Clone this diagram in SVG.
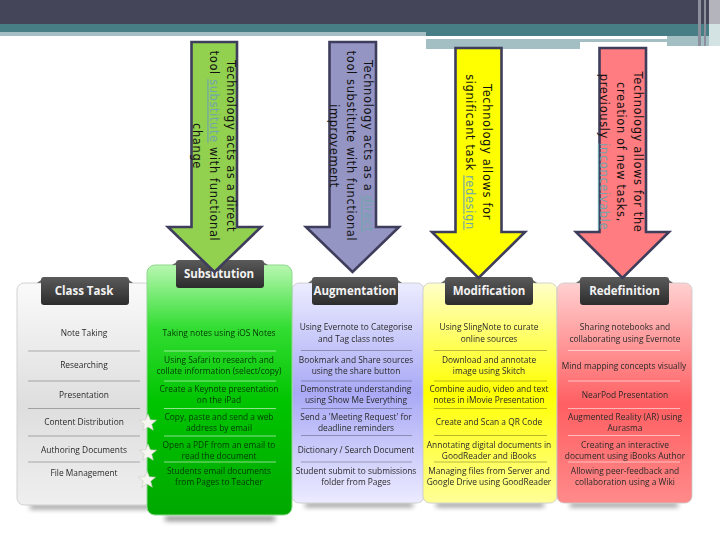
<svg xmlns="http://www.w3.org/2000/svg" width="720" height="540" viewBox="0 0 720 540">
<style>
.hd{font:700 11.5px "Open Sans","Liberation Sans",sans-serif;fill:#f2f2f2;text-anchor:middle}
.t{font:8.4px "Open Sans","Liberation Sans",sans-serif;fill:#2a2a2a;text-anchor:middle;filter:url(#soft)}
.g{fill:#063806}
.div{stroke:#000;stroke-opacity:.28;stroke-width:1;fill:none}
.lt{stroke:#fff;stroke-opacity:.55}
.card{stroke:#c8c8c8;stroke-width:.8}
.bar{fill:url(#hdr)}
.tab{fill:#6a6a6a}
.arrow{stroke:#3f3d5c;stroke-width:2.600;stroke-linejoin:miter}
.at{font:11.500px "DejaVu Sans","Liberation Sans",sans-serif;letter-spacing:.6px;fill:#111;text-anchor:middle}
.lk{fill:#6fa5ac;text-decoration:underline}
.star{fill:#f6f6f0;stroke:#c8c8c0;stroke-width:.6}
</style>
<defs>
<filter id="soft" x="-5%" y="-30%" width="110%" height="160%"><feGaussianBlur stdDeviation=".35"/></filter>
<filter id="sh" x="-20%" y="-200%" width="140%" height="500%"><feGaussianBlur stdDeviation="2.5"/></filter>
<linearGradient id="hdr" x1="0" y1="0" x2="0" y2="1"><stop offset="0" stop-color="#5a5a5a"/><stop offset="1" stop-color="#2c2c2c"/></linearGradient>
<linearGradient id="cw" x1="0" y1="0" x2="0" y2="1"><stop offset="0" stop-color="#fafafa"/><stop offset=".55" stop-color="#dedede"/><stop offset="1" stop-color="#efefef"/></linearGradient>
<linearGradient id="cg" x1="0" y1="0" x2="0" y2="1"><stop offset="0" stop-color="#b8f7b0"/><stop offset=".25" stop-color="#33dd33"/><stop offset=".55" stop-color="#00c400"/><stop offset="1" stop-color="#00a800"/></linearGradient>
<linearGradient id="cb" x1="0" y1="0" x2="0" y2="1"><stop offset="0" stop-color="#ececff"/><stop offset=".5" stop-color="#a9a9f6"/><stop offset="1" stop-color="#ecebff"/></linearGradient>
<linearGradient id="cy" x1="0" y1="0" x2="0" y2="1"><stop offset="0" stop-color="#ffffc8"/><stop offset=".5" stop-color="#ffff00"/><stop offset="1" stop-color="#ffff99"/></linearGradient>
<linearGradient id="cr" x1="0" y1="0" x2="0" y2="1"><stop offset="0" stop-color="#ffd0d0"/><stop offset=".55" stop-color="#ff5f62"/><stop offset="1" stop-color="#ff8a8a"/></linearGradient>
</defs>

<rect width="720" height="540" fill="#fff"/>
<g id="banner">
<rect width="720" height="24" fill="#444559"/>
<rect y="24" width="720" height="8" fill="#477e85"/>
<rect y="32" width="426" height="4" fill="#a3bfc3"/>
<rect x="426" y="32" width="294" height="4" fill="#477e85"/>
<rect x="426" y="39" width="241" height="3" fill="#a3bfc3"/>
<rect x="426" y="42" width="154" height="7" fill="#a3bfc3"/>
<rect x="667" y="36" width="53" height="10" fill="#a3bfc3"/>
<rect x="698" y="0" width="3" height="46" fill="#8e8f9c"/>
<rect x="704" y="0" width="2" height="46" fill="#8e8f9c"/>
<rect x="709" y="0" width="11" height="24" fill="#b4b4bc"/>
<rect x="709" y="24" width="11" height="22" fill="#d3e2e3"/>
</g>

<g id="shadows" fill="#333" opacity=".55" filter="url(#sh)">
<rect x="30" y="505" width="120" height="4"/>
<rect x="165" y="516" width="110" height="5"/>
<rect x="305" y="503" width="108" height="4"/>
<rect x="436" y="503" width="108" height="4"/>
<rect x="570" y="503" width="108" height="4"/>
</g>

<g id="class-task">
<rect class="card" x="17" y="283" width="135" height="222" rx="7" fill="url(#cw)"/>
<path class="tab" d="M37 283L45 277H125L133 283Z"/>
<rect class="bar" x="41" y="277" width="88" height="28" rx="3"/>
<text class="hd" x="84" y="295">Class Task</text>
<path class="div" d="M28 351H140M28 381H140M28 408.500H140M28 436H140M28 462H140"/>
<text class="t" x="84" y="336">Note Taking</text>
<text class="t" x="84" y="368">Researching</text>
<text class="t" x="84" y="398">Presentation</text>
<text class="t" x="84" y="425">Content Distribution</text>
<text class="t" x="84" y="453">Authoring Documents</text>
<text class="t" x="84" y="476">File Management</text>
</g>

<g id="augmentation">
<rect class="card" x="292" y="283" width="132" height="220" rx="7" fill="url(#cb)"/>
<path class="tab" d="M308 283L316 277H394L402 283Z"/>
<rect class="bar" x="312" y="277" width="86" height="28" rx="3"/>
<text class="hd" x="355" y="295">Augmentation</text>
<path class="div" d="M301 350.500H412M301 381H412M301 408.500H412M301 435.500H412M301 462H412"/>
<text class="t" x="356" y="330">Using Evernote to Categorise</text>
<text class="t" x="356" y="341.500">and Tag class notes</text>
<text class="t" x="356" y="363">Bookmark and Share sources</text>
<text class="t" x="356" y="374">using the share button</text>
<text class="t" x="356" y="392">Demonstrate understanding</text>
<text class="t" x="356" y="403">using Show Me Everything</text>
<text class="t" x="356" y="420">Send a 'Meeting Request' for</text>
<text class="t" x="356" y="431">deadline reminders</text>
<text class="t" x="356" y="452.500">Dictionary / Search Document</text>
<text class="t" x="356" y="474">Student submit to submissions</text>
<text class="t" x="356" y="485">folder from Pages</text>
</g>

<g id="modification">
<rect class="card" x="423" y="283" width="134" height="220" rx="7" fill="url(#cy)"/>
<path class="tab" d="M441 283L449 277H529L537 283Z"/>
<rect class="bar" x="445" y="277" width="88" height="28" rx="3"/>
<text class="hd" x="489" y="295">Modification</text>
<path class="div" d="M434 350.500H547M434 381H547M434 408.500H547M434 435.500H547M434 462H547"/>
<text class="t" x="489" y="330">Using SlingNote to curate</text>
<text class="t" x="489" y="341.500">online sources</text>
<text class="t" x="489" y="363">Download and annotate</text>
<text class="t" x="489" y="374">image using Skitch</text>
<text class="t" x="489" y="392">Combine audio, video and text</text>
<text class="t" x="489" y="403">notes in iMovie Presentation</text>
<text class="t" x="489" y="425">Create and Scan a QR Code</text>
<text class="t" x="489" y="448">Annotating digital documents in</text>
<text class="t" x="489" y="459">GoodReader and iBooks</text>
<text class="t" x="489" y="474">Managing files from Server and</text>
<text class="t" x="489" y="485">Google Drive using GoodReader</text>
</g>

<g id="redefinition">
<rect class="card" x="557" y="283" width="135" height="220" rx="7" fill="url(#cr)"/>
<path class="tab" d="M576 283L584 277H665L673 283Z"/>
<rect class="bar" x="580" y="277" width="89" height="28" rx="3"/>
<text class="hd" x="624.500" y="295">Redefinition</text>
<path class="div lt" d="M568 350.500H680M568 381H680M568 408.500H680M568 435.500H680M568 462H680"/>
<text class="t" x="625" y="330">Sharing notebooks and</text>
<text class="t" x="625" y="341.500">collaborating using Evernote</text>
<text class="t" x="624" y="369">Mind mapping concepts visually</text>
<text class="t" x="625" y="397.500">NearPod Presentation</text>
<text class="t" x="625" y="420">Augmented Reality (AR) using</text>
<text class="t" x="625" y="431">Aurasma</text>
<text class="t" x="625" y="448">Creating an interactive</text>
<text class="t" x="625" y="459">document using iBooks Author</text>
<text class="t" x="625" y="474">Allowing peer-feedback and</text>
<text class="t" x="625" y="485">collaboration using a Wiki</text>
</g>

<g id="substitution">
<rect x="147" y="265" width="145" height="250" rx="8" fill="url(#cg)" stroke="#8fd88f" stroke-width="1"/>
<path class="tab" d="M172 265L180 260H260L268 265Z"/>
<rect class="bar" x="176" y="260" width="88" height="28" rx="3"/>
<text class="hd" x="219" y="278">Subsutution</text>
<path class="div lt" d="M164 351H276M164 381H276M164 408.500H276M164 436H276M164 462H276"/>
<text class="t g" x="219" y="336">Taking notes using iOS Notes</text>
<text class="t g" x="219" y="363">Using Safari to research and</text>
<text class="t g" x="219" y="374">collate information (select/copy)</text>
<text class="t g" x="219" y="392">Create a Keynote presentation</text>
<text class="t g" x="219" y="403">on the iPad</text>
<text class="t g" x="219" y="420">Copy, paste and send a web</text>
<text class="t g" x="219" y="431">address by email</text>
<text class="t g" x="219" y="448">Open a PDF from an email to</text>
<text class="t g" x="219" y="459">read the document</text>
<text class="t g" x="219" y="474">Students email documents</text>
<text class="t g" x="219" y="485">from Pages to Teacher</text>
</g>

<g id="stars">
<polygon class="star" points="148,414 150.300,419.800 156.500,420.200 151.700,424.200 153.300,430.200 148,426.900 142.700,430.200 144.300,424.200 139.500,420.200 145.700,419.800"/>
<polygon class="star" points="148,444 150.300,449.800 156.500,450.200 151.700,454.200 153.300,460.200 148,456.900 142.700,460.200 144.300,454.200 139.500,450.200 145.700,449.800"/>
<polygon class="star" points="147,471 149.300,476.800 155.500,477.200 150.700,481.200 152.300,487.200 147,483.900 141.700,487.200 143.300,481.200 138.500,477.200 144.700,476.800"/>
</g>

<g id="connectors">
<path class="arrow" fill="#92d050" d="M191.500 42H237V227H261L214.500 272L168 227H191.500Z"/>
<path class="arrow" fill="#9595c4" d="M329.500 42H376V227H399L352.500 272L306 227H329.500Z"/>
<path class="arrow" fill="#ffff00" d="M455.500 48H501.500V232H525L478.500 278L432 232H455.500Z"/>
<path class="arrow" fill="#ff7c80" d="M599.500 48H646V232H669L622.500 278L576 232H599.500Z"/>
</g>

<g id="arrow-labels">
<text class="at" transform="translate(226.500 146) rotate(90)">Technology acts as a direct</text>
<text class="at" transform="translate(209.500 146) rotate(90)">tool <tspan class="lk">substitute</tspan> with functional</text>
<text class="at" transform="translate(193 146) rotate(90)">change</text>
<text class="at" transform="translate(363.500 146) rotate(90)">Technology acts as a <tspan class="lk">direct</tspan></text>
<text class="at" transform="translate(347 146) rotate(90)">tool substitute with functional</text>
<text class="at" transform="translate(330 146) rotate(90)">improvement</text>
<text class="at" transform="translate(482.500 152) rotate(90)">Technology allows for</text>
<text class="at" transform="translate(465.500 152) rotate(90)">significant task <tspan class="lk">redesign</tspan></text>
<text class="at" transform="translate(633.500 152) rotate(90)">Technology allows for the</text>
<text class="at" transform="translate(617 152) rotate(90)">creation of new tasks,</text>
<text class="at" transform="translate(600 152) rotate(90)">previously <tspan class="lk">inconceivable</tspan></text>
</g>
</svg>
